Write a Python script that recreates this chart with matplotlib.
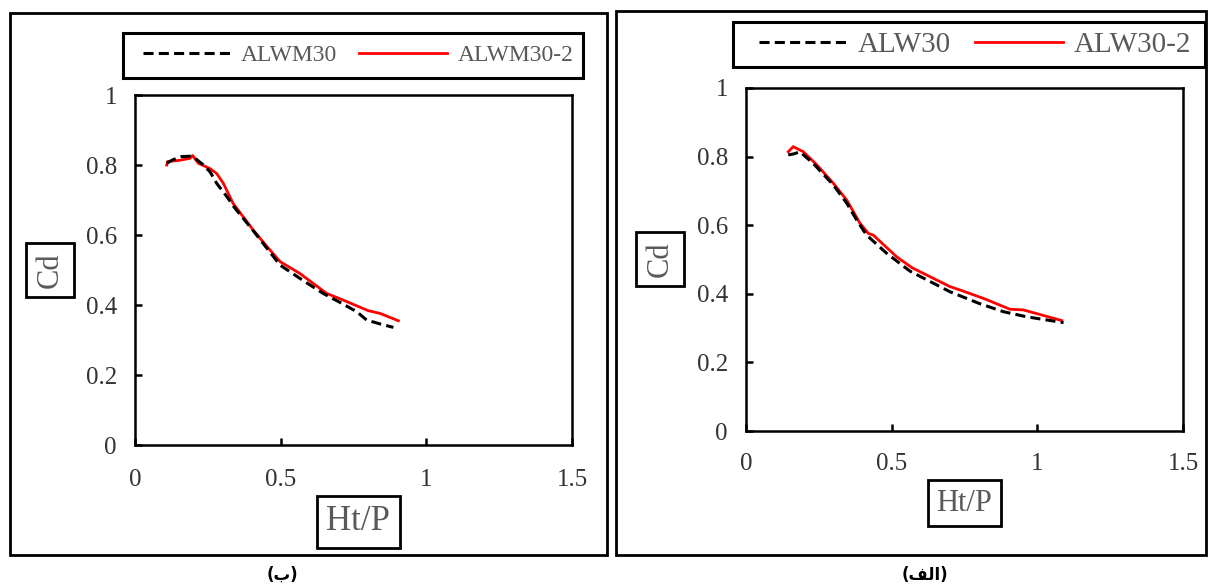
import matplotlib
matplotlib.use("Agg")
import matplotlib.pyplot as plt
from matplotlib.patches import Rectangle

# ---------------- data ----------------
# panel (ب) : ALWM30 (black dashed) and ALWM30-2 (red)
alwm30_x = [0.109, 0.130, 0.160, 0.189, 0.205, 0.235, 0.258, 0.280, 0.315, 0.340, 0.406,
            0.450, 0.498, 0.566, 0.646, 0.709, 0.761, 0.795, 0.841, 0.887]
alwm30_y = [0.805, 0.815, 0.824, 0.825, 0.820, 0.800, 0.780, 0.748, 0.710, 0.680, 0.612,
            0.565, 0.514, 0.476, 0.433, 0.405, 0.381, 0.357, 0.346, 0.336]
alwm30_2_x = [0.109, 0.112, 0.150, 0.189, 0.198, 0.217, 0.257, 0.280, 0.303, 0.337, 0.406,
              0.450, 0.498, 0.566, 0.658, 0.709, 0.800, 0.841, 0.904]
alwm30_2_y = [0.800, 0.810, 0.813, 0.819, 0.827, 0.805, 0.790, 0.776, 0.748, 0.690, 0.614,
              0.570, 0.524, 0.490, 0.433, 0.416, 0.384, 0.376, 0.355]

# panel (الف) : ALW30 (black dashed) and ALW30-2 (red)
alw30_x = [0.145, 0.165, 0.185, 0.231, 0.300, 0.346, 0.380, 0.414, 0.483, 0.563, 0.700,
           0.800, 0.883, 0.963, 1.090]
alw30_y = [0.805, 0.808, 0.814, 0.780, 0.717, 0.664, 0.615, 0.571, 0.518, 0.466, 0.406,
           0.372, 0.348, 0.333, 0.316]
alw30_2_x = [0.145, 0.162, 0.197, 0.243, 0.300, 0.346, 0.391, 0.420, 0.437, 0.517, 0.570,
             0.700, 0.735, 0.820, 0.906, 0.952, 1.084]
alw30_2_y = [0.814, 0.829, 0.814, 0.776, 0.722, 0.673, 0.606, 0.576, 0.571, 0.508, 0.476,
             0.421, 0.411, 0.385, 0.355, 0.353, 0.322]

x_ticks = [0, 0.5, 1, 1.5]
x_tick_labels = ["0", "0.5", "1", "1.5"]
y_ticks = [0, 0.2, 0.4, 0.6, 0.8, 1]
y_tick_labels = ["0", "0.2", "0.4", "0.6", "0.8", "1"]
x_label = "Ht/P"
y_label = "Cd"
captions = ["(ب)", "(\ufed2\ufedf\ufe8d)"]  # "(الف)" written in shaped visual order

# ---------------- style ----------------
W, H = 1209, 586
SERIF = ["Liberation Serif", "DejaVu Serif"]
TXT_GRAY = "#595959"
TICK_COL = "#333333"
plt.rcParams["font.family"] = SERIF

fig = plt.figure(figsize=(W / 100, H / 100), dpi=100)


def fx(px):
    return px / W


def fy(py):
    return 1 - py / H


def frame(x0, y0, x1, y1, lw=2.0):
    fig.patches.append(Rectangle((fx(x0), fy(y1)), fx(x1) - fx(x0), fy(y0) - fy(y1),
                                 transform=fig.transFigure, fill=False,
                                 edgecolor="black", linewidth=lw, zorder=0))


# outer panel frames
frame(10, 13, 607, 555)
frame(616, 11, 1206, 555)

panels = [
    dict(ax_px=(135, 95, 572, 445), dx=alwm30_x, dy=alwm30_y, rx=alwm30_2_x, ry=alwm30_2_y,
         names=("ALWM30", "ALWM30-2"), leg_px=(123, 33, 583, 78), leg_dx=5, leg_fs=17,
         leg_hl=3.7, leg_tp=0.45, leg_cs=0.95,
         xl_fs=25, xl_pos=(0.511, -0.22), yl_fs=22, yl_pos=(-0.1945, 0.5),
         xpad=17, ypad=13, cap=(282, 575), cap_txt=captions[0]),
    dict(ax_px=(746, 88, 1183, 431), dx=alw30_x, dy=alw30_y, rx=alw30_2_x, ry=alw30_2_y,
         names=("ALW30", "ALW30-2"), leg_px=(733, 22, 1205, 67), leg_dx=6, leg_fs=21,
         leg_hl=3.0, leg_tp=0.36, leg_cs=0.85,
         xl_fs=22, xl_pos=(0.5, -0.21), yl_fs=22, yl_pos=(-0.197, 0.501),
         xpad=16, ypad=13, cap=(925, 575), cap_txt=captions[1]),
]

for p in panels:
    x0, y0, x1, y1 = p["ax_px"]
    ax = fig.add_axes([fx(x0), fy(y1), fx(x1) - fx(x0), fy(y0) - fy(y1)])
    ax.plot(p["dx"], p["dy"], color="black", linewidth=2.2, linestyle=(0, (3.3, 1.7)),
            label=p["names"][0], zorder=3)
    ax.plot(p["rx"], p["ry"], color="#ff0000", linewidth=2.0, label=p["names"][1], zorder=2)
    ax.set_xlim(0, 1.5)
    ax.set_ylim(0, 1)
    ax.set_xticks(x_ticks)
    ax.set_xticklabels(x_tick_labels)
    ax.set_yticks(y_ticks)
    ax.set_yticklabels(y_tick_labels)
    for s in ax.spines.values():
        s.set_linewidth(1.8)
    ax.tick_params(axis="both", direction="in", length=5, width=1.8, colors="black",
                   labelcolor=TICK_COL, labelsize=18)
    ax.tick_params(axis="x", pad=p["xpad"])
    ax.tick_params(axis="y", pad=p["ypad"])

    ax.set_xlabel(x_label, fontsize=p["xl_fs"], color=TXT_GRAY,
                  bbox=dict(boxstyle="square,pad=0.28", facecolor="white",
                            edgecolor="black", linewidth=2.0))
    ax.xaxis.set_label_coords(*p["xl_pos"])
    ax.xaxis.label.set_va("center")
    ax.set_ylabel(y_label, fontsize=p["yl_fs"], color=TXT_GRAY,
                  bbox=dict(boxstyle="square,pad=0.3", facecolor="white",
                            edgecolor="black", linewidth=2.0))
    ax.yaxis.set_label_coords(*p["yl_pos"])
    ax.yaxis.label.set_va("center")

    # legend: box frame + centred content
    lx0, ly0, lx1, ly1 = p["leg_px"]
    frame(lx0, ly0, lx1, ly1, lw=2.2)
    leg = fig.legend(handles=ax.get_lines(), labels=list(p["names"]), ncol=2,
                     loc="center",
                     bbox_to_anchor=(fx((lx0 + lx1) / 2 + p["leg_dx"]), fy((ly0 + ly1) / 2)),
                     bbox_transform=fig.transFigure, frameon=False,
                     fontsize=p["leg_fs"], handlelength=p["leg_hl"],
                     handletextpad=p["leg_tp"], columnspacing=p["leg_cs"],
                     borderpad=0, borderaxespad=0)
    for t in leg.get_texts():
        t.set_color(TXT_GRAY)

    fig.text(fx(p["cap"][0]), fy(p["cap"][1]), p["cap_txt"], ha="center", va="center",
             fontsize=12, fontweight="bold", family=["DejaVu Sans"])

fig.savefig("out.png", dpi=100)
